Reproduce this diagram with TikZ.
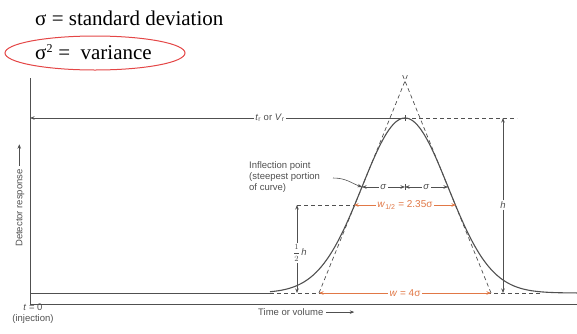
\documentclass[tikz,border=0pt]{standalone}
\usepackage{fontspec}
\setmainfont{Liberation Sans}
\newfontfamily\timesfont{Liberation Serif}
\usetikzlibrary{arrows.meta,calc}
\definecolor{ink}{RGB}{80,80,80}
\definecolor{orng}{RGB}{225,120,70}
\definecolor{redl}{RGB}{228,70,70}
\tikzset{
  ln/.style={draw=ink, line width=0.8pt},
  dsh/.style={draw=ink, line width=0.7pt, dash pattern=on 4pt off 3pt},
  arr/.style={-{Stealth[length=4.5pt,width=3.5pt]}},
  darr/.style={{Stealth[length=4.5pt,width=3.5pt]}-{Stealth[length=4.5pt,width=3.5pt]}},
  lab/.style={font=\fontsize{9.5}{11}\selectfont, text=ink, inner sep=1pt},
  olab/.style={font=\fontsize{10}{11}\selectfont, text=orng, fill=white, inner sep=1.5pt},
  top/.style={font=\timesfont\fontsize{21}{23}\selectfont, text=black, anchor=west, inner sep=0pt}
}
\begin{document}
\begin{tikzpicture}[x=1pt,y=-1pt]
\useasboundingbox (0,0) rectangle (577,333);
% top texts
\node[top] (sd) at (35,18) {σ = standard deviation};
\node[top] (var) at (35,52) {σ\textsuperscript{\fontsize{12}{12}\selectfont 2} =\ \ variance};
\draw[redl, line width=1pt] (95,53) ellipse [x radius=90, y radius=17];
% frame
\coordinate (ytop) at (30,78);
\coordinate (orig) at (30,304);
\coordinate (xend) at (577,304);
\draw[ln] (ytop) -- (orig) -- (xend);
% baseline
\coordinate (b0) at (30,293);
\coordinate (b1) at (270,293);
\draw[ln] (b0) -- (b1);
\draw[dsh] (b1) -- (540,293);
% gaussian
\draw[draw=ink, line width=1.1pt] plot[domain=270:577, samples=160, smooth] (\x, {293-175*exp(-0.5*((\x-405)/43)^2)});
% tangent lines
\coordinate (tl) at (319,293);
\coordinate (tr) at (491,293);
\coordinate (apex) at (405,81);
\draw[dsh] (tl) -- ($(tl)!1.04!(apex)$);
\draw[dsh] (tr) -- ($(tr)!1.04!(apex)$);
% retention line
\coordinate (peak) at (405,118);
\node[lab] (trlab) at (270,118) {\textit{t}\textsubscript{r} or \textit{V}\textsubscript{r}};
\draw[ln, arr] (trlab.west) -- (30,118);
\draw[ln] (trlab.east) -- (peak);
\draw[ln] (405,115) -- (405,121);
\draw[dsh] (peak) -- (517,118);
% h arrow
\node[lab, fill=white] (hlab) at (503,205) {\textit{h}};
\draw[ln, arr] (hlab.north) -- (503,118);
\draw[ln, arr] (hlab.south) -- (503,293);
% half height
\coordinate (hl) at (354,205);
\coordinate (hr) at (456,205);
\draw[dsh] (297,205) -- (hl);
\node[lab, fill=white, inner sep=0.5pt] (halflab) at (300,253) {{\fontsize{8}{8}\selectfont$\displaystyle\frac{1}{2}$}\,\textit{h}};
\draw[ln, arr] (297,243) -- (297,205);
\draw[ln, arr] (297,263) -- (297,293);
\draw[orng, line width=0.7pt, darr] (hl) -- (hr);
\node[olab] (w12) at (405,205) {\textit{w}\textsubscript{1/2} = 2.35σ};
% base width
\draw[orng, line width=0.7pt, darr] (tl) -- (tr);
\node[olab] (w4) at (405,293) {\textit{w} = 4σ};
% sigma arrows
\coordinate (il) at (362,187);
\coordinate (ir) at (448,187);
\coordinate (ic) at (405,187);
\draw[ln, line width=0.6pt, darr] (il) -- (ic);
\draw[ln, line width=0.6pt, darr] (ic) -- (ir);
\draw[ln, line width=0.6pt] (405,184) -- (405,190);
\node[lab, fill=white] (s1) at (383.5,187) {\textit{σ}};
\node[lab, fill=white] (s2) at (426.5,187) {\textit{σ}};
% inflection label
\node[lab, align=left, anchor=north west, inner sep=0pt] (infl) at (249,161) {Inflection point\\(steepest portion\\of curve)};
\draw[ln, line width=0.6pt, arr] (333,178) .. controls (346,178) and (351,183) .. (il);
% axis labels
\node[lab, rotate=90, anchor=west] (det) at (20,248) {Detector response \tikz[baseline=-0.6ex]\draw[ink, line width=0.6pt, arr] (0,0) -- (22pt,0);};
\node[lab, align=center, anchor=north, inner sep=0pt] (t0) at (33,304) {\textit{t} = 0\\(injection)};
\node[lab, anchor=north west, inner sep=0pt] (tv) at (258,308) {Time or volume \tikz[baseline=-0.6ex]\draw[ink, line width=0.6pt, arr] (0,0) -- (28pt,0);};
\end{tikzpicture}
\end{document}
